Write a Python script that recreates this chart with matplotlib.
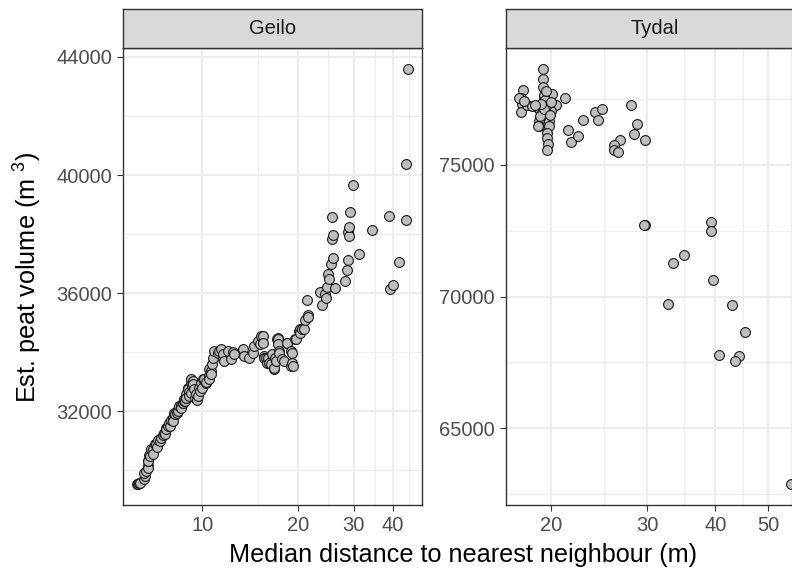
import matplotlib
matplotlib.use('Agg')
import matplotlib.pyplot as plt
from matplotlib.ticker import FixedLocator, NullFormatter

plt.rcParams['font.family'] = ['Liberation Sans', 'DejaVu Sans']
plt.rcParams['mathtext.default'] = 'regular'

# ---------------- data ----------------
geilo_x = [6.21, 6.27, 6.30, 6.35, 6.57, 6.58, 6.57, 6.65, 6.73, 6.75, 6.77, 6.75, 6.82, 6.83,
           6.90, 7.00, 7.00, 7.08, 7.13, 7.20, 7.27, 7.35, 7.43, 7.50, 7.60, 7.62, 7.69, 7.71,
           7.80, 7.88, 7.90, 8.00, 8.07, 8.10, 8.17, 8.20, 8.30, 8.37, 8.39, 8.47, 8.55, 8.59,
           8.68, 8.70, 8.79, 8.79, 8.85, 8.90, 8.91, 8.91, 9.00, 9.00, 9.10, 9.10, 9.22, 9.24,
           9.24, 9.28, 9.35, 9.36, 9.40, 9.50, 9.55, 9.60, 9.69, 9.79, 9.81, 9.90, 10.00, 10.05,
           10.15, 10.29, 10.30, 10.52, 10.54, 10.54, 10.65, 10.67, 10.73, 10.85, 10.93, 11.20,
           11.30, 11.47, 11.60, 11.61, 11.75, 12.03, 12.33, 12.47, 12.63, 13.41, 13.57, 14.07,
           14.42, 14.60, 14.96, 15.24, 15.31, 15.50, 15.50, 15.61, 15.65, 15.90, 16.00, 16.10,
           16.30, 16.46, 16.60, 16.80, 16.83, 17.00, 17.03, 17.20, 17.35, 17.40, 17.40, 17.48,
           17.50, 17.90, 18.10, 18.50, 18.54, 19.00, 19.00, 19.20, 19.20, 19.34, 19.60, 19.71,
           20.20, 20.30, 20.40, 20.60, 20.70, 21.00, 21.10, 21.40, 21.50, 21.50, 23.60, 23.80,
           24.40, 24.50, 24.80, 24.90, 25.20, 25.40, 25.60, 25.70, 25.90, 25.90, 26.20, 28.20,
           28.60, 28.90, 28.90, 29.00, 29.00, 29.30, 29.80, 31.30, 34.30, 38.80, 39.10, 40.10,
           41.60, 43.80, 43.80, 44.60]
geilo_y = [29532, 29532, 29560, 29589, 29725, 29813, 29927, 29982, 30151, 30097, 30320, 30320,
           30512, 30489, 30715, 30715, 30550, 30884, 30884, 30800, 31030, 30996, 31111, 31200,
           31280, 31222, 31449, 31391, 31500, 31618, 31503, 31700, 31787, 31672, 31956, 31899,
           31950, 32068, 32010, 32179, 32200, 32125, 32294, 32294, 32406, 32348, 32350, 32575,
           32463, 32463, 32801, 32744, 32650, 32517, 32970, 32632, 33082, 32855, 33024, 32913,
           32750, 32450, 32575, 32400, 32517, 32801, 32686, 32950, 32800, 33082, 33082, 32970,
           33000, 33195, 33082, 33420, 33363, 33251, 33589, 33816, 34039, 33985, 34039, 34096,
           33758, 33927, 33701, 34039, 33758, 34005, 33927, 34096, 33870, 33816, 33985, 34208,
           34377, 34265, 34546, 34546, 34323, 33870, 33816, 33816, 33647, 33816, 33647, 33589,
           33927, 33443, 33477, 33816, 33701, 34434, 34492, 34434, 34265, 34039, 33985, 33758,
           33701, 34323, 34323, 33532, 34039, 33985, 33647, 33532, 34434, 34434, 34715, 34796,
           34637, 34772, 34772, 34796, 35077, 35763, 35246, 35202, 36034, 35607, 35956, 35844,
           36216, 36666, 36463, 37004, 37849, 38569, 37961, 37197, 36159, 36419, 36801, 37115,
           38076, 37927, 38245, 38738, 39651, 37342, 38130, 38627, 36125, 36260, 37048, 38468,
           40375, 43597]

tydal_x = [19.36, 19.35, 19.36, 17.78, 17.60, 17.70, 17.65, 18.10, 18.50, 18.90, 19.10, 19.43,
           19.55, 20.10, 19.83, 20.40, 19.97, 19.70, 19.00, 19.00, 19.83, 19.83, 19.70, 19.70,
           19.75, 19.70, 21.20, 22.90, 21.50, 21.80, 22.40, 24.10, 24.80, 24.40, 28.00, 28.70,
           28.40, 29.70, 26.80, 26.10, 26.10, 26.50, 29.70, 29.60, 39.30, 39.30, 35.00, 33.50,
           39.60, 32.70, 42.90, 45.30, 40.60, 44.20, 43.50, 55.00, 17.50, 17.85, 19.43, 19.50,
           19.55, 19.25, 19.10, 18.95, 19.60, 19.40, 19.20, 18.70, 19.90, 20.00]
tydal_y = [78642, 78263, 77948, 77819, 77531, 77303, 76984, 77276, 77212, 77151, 77087, 77531,
           77341, 77682, 77151, 77276, 77022, 76833, 76643, 76453, 76643, 76453, 76203, 76013,
           75785, 75543, 77531, 76707, 76328, 75861, 76075, 76999, 77125, 76707, 77250, 76544,
           76176, 75937, 75949, 75732, 75569, 75467, 72697, 72697, 72826, 72470, 71585, 71270,
           70637, 69726, 69662, 68653, 67765, 67727, 67564, 62880, 77531, 77402, 77656, 77466,
           77212, 76961, 76833, 76480, 77800, 77100, 77300, 77250, 76900, 77400]

panel_names = ['Geilo', 'Tydal']
panel_x = [geilo_x, tydal_x]
panel_y = [geilo_y, tydal_y]
x_major = [[10, 20, 30, 40], [20, 30, 40, 50]]
x_minor = [[15, 25, 35, 45], [25, 35, 45, 55]]
y_major = [[32000, 36000, 40000, 44000], [65000, 70000, 75000]]
y_minor = [[30000, 34000, 38000, 42000], [62500, 67500, 72500, 77500]]

x_title = 'Median distance to nearest neighbour (m)'
y_title = 'Est. peat volume (m $^{3}$)'

# ---------------- layout ----------------
W, H = 792, 569
fig = plt.figure(figsize=(W / 100, H / 100), dpi=100)
fig.patch.set_facecolor('white')


def px_axes(x0, y0, x1, y1):
    return fig.add_axes([x0 / W, 1 - y1 / H, (x1 - x0) / W, (y1 - y0) / H])


panel_w = 298.7
lefts = [123.0, 505.7]
top, bottom = 48.0, 505.0
strip_top = 9.0
border = '#333333'
grid_c = '#EBEBEB'

for i, name in enumerate(panel_names):
    l = lefts[i]
    ax = px_axes(l, top, l + panel_w, bottom)
    ax.set_xscale('log')
    ax.scatter(panel_x[i], panel_y[i], s=50, facecolor='#BEBEBE', edgecolor='#1A1A1A',
               linewidth=0.8, zorder=3)
    ax.margins(0.05)
    ax.set_xticks(x_major[i])
    ax.set_xticklabels([str(v) for v in x_major[i]])
    ax.xaxis.set_minor_locator(FixedLocator(x_minor[i]))
    ax.xaxis.set_minor_formatter(NullFormatter())
    ax.set_yticks(y_major[i])
    ax.set_yticklabels([str(v) for v in y_major[i]])
    ax.yaxis.set_minor_locator(FixedLocator(y_minor[i]))
    ax.yaxis.set_minor_formatter(NullFormatter())
    ax.set_axisbelow(True)
    ax.grid(True, which='major', color=grid_c, linewidth=1.3)
    ax.grid(True, which='minor', color=grid_c, linewidth=0.65)
    ax.tick_params(which='major', length=4.3, width=0.8, color=border,
                   labelsize=14.5, labelcolor='#4D4D4D', pad=3.5)
    ax.tick_params(which='minor', length=0)
    for sp in ax.spines.values():
        sp.set_color(border)
        sp.set_linewidth(1.0)

    st = px_axes(l, strip_top, l + panel_w, top)
    st.set_facecolor('#D9D9D9')
    st.set_xticks([])
    st.set_yticks([])
    for sp in st.spines.values():
        sp.set_color(border)
        sp.set_linewidth(1.0)
    st.text(0.5, 0.5, name, ha='center', va='center', fontsize=14.5, color='#1A1A1A',
            transform=st.transAxes)

fig.text(463 / W, 1 - 562 / H, x_title, ha='center', va='baseline', fontsize=18.2,
         color='black')
fig.text(28 / W, 1 - 277 / H, y_title, ha='center', va='center', rotation=90,
         fontsize=18.2, color='black')

fig.savefig('out.png', dpi=100)
